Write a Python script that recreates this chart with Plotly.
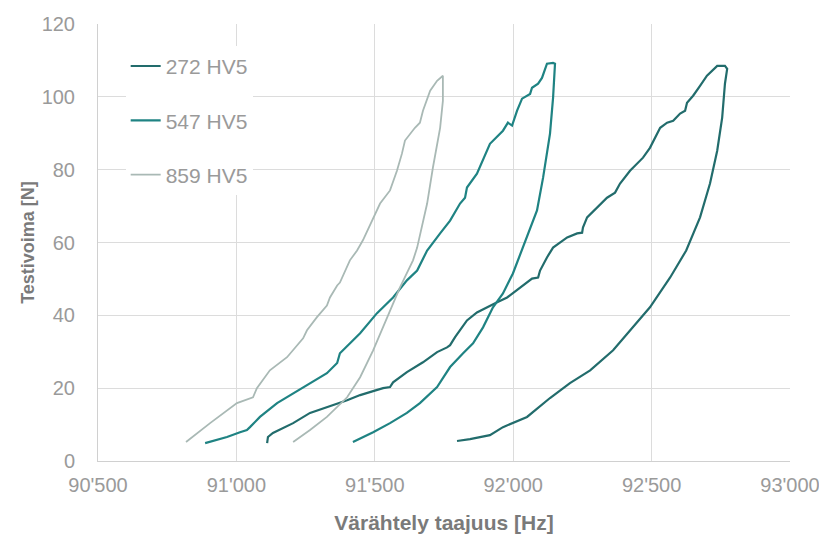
import plotly.graph_objects as go

# ---- data ----
series_names = ["272 HV5", "547 HV5", "859 HV5"]

f_272 = [91111, 91114, 91132, 91205, 91266, 91327, 91374, 91400, 91447, 91472, 91494, 91530,
         91555, 91566, 91616, 91674, 91725, 91761, 91772, 91790, 91833, 91869, 91916, 91942,
         91978, 92025, 92068, 92090, 92097, 92122, 92144, 92195, 92231, 92249, 92252, 92267,
         92303, 92339, 92368, 92386, 92422, 92469, 92494, 92531, 92556, 92578, 92603, 92621,
         92628, 92650, 92675, 92700, 92737, 92765, 92773,
         92765, 92755, 92737, 92711, 92675, 92625, 92567, 92494, 92433, 92361, 92278, 92205,
         92133, 92050, 91963, 91916, 91844, 91797]
F_272 = [4.9, 6.6, 7.7, 10.4, 13.2, 14.8, 15.9, 16.7, 18.1, 18.6, 19.2, 20.0,
         20.3, 21.6, 24.4, 27.1, 29.9, 31.2, 31.8, 34.0, 38.6, 40.8, 42.7, 43.6,
         44.9, 47.7, 50.1, 50.4, 52.3, 55.9, 58.6, 61.4, 62.5, 62.7, 64.1, 66.9,
         69.6, 72.3, 73.7, 76.2, 79.7, 83.3, 86.0, 91.5, 92.9, 93.4, 95.4, 96.2,
         98.4, 100.3, 103.0, 105.8, 108.5, 108.5, 107.7,
         103.6, 94.3, 85.2, 76.2, 66.9, 57.8, 50.4, 42.2, 36.7, 30.4, 24.9, 21.4,
         17.3, 12.1, 9.3, 7.1, 6.0, 5.5]

f_547 = [90887, 90966, 91013, 91038, 91049, 91085, 91147, 91205, 91266, 91327, 91364, 91374,
         91447, 91508, 91566, 91616, 91653, 91689, 91736, 91772, 91808, 91826, 91833, 91869,
         91916, 91963, 91981, 91996, 92014, 92032, 92061, 92068, 92090, 92104, 92122, 92144,
         92151,
         92144, 92133, 92108, 92086, 92038, 91999, 91963, 91927, 91891, 91855, 91819, 91772,
         91725, 91663, 91616, 91555, 91494, 91421]
F_547 = [4.9, 6.6, 7.9, 8.5, 9.3, 12.1, 15.9, 18.6, 21.4, 24.1, 26.9, 29.6,
         35.1, 40.6, 44.9, 49.6, 52.3, 57.8, 62.5, 66.0, 70.7, 72.3, 75.1, 78.9,
         87.1, 90.7, 92.9, 92.1, 96.2, 99.5, 100.8, 102.5, 103.6, 105.2, 109.1, 109.3,
         109.1,
         99.7, 89.9, 77.8, 68.8, 59.0, 51.5, 46.0, 42.2, 36.7, 32.3, 29.6, 25.8,
         20.3, 15.9, 13.2, 10.4, 7.9, 5.2]

f_859 = [90818, 90905, 91002, 91060, 91074, 91121, 91183, 91241, 91255, 91291, 91327, 91338,
         91364, 91374, 91410, 91436, 91457, 91519, 91555, 91580, 91598, 91609, 91645, 91663,
         91674, 91700, 91725, 91746,
         91746, 91736, 91710, 91689, 91653, 91638, 91591, 91544, 91494, 91447, 91400, 91327,
         91266, 91205]
F_859 = [5.2, 10.4, 15.9, 17.5, 20.0, 24.9, 28.5, 33.7, 35.9, 39.5, 42.7, 44.9,
         48.2, 49.0, 55.1, 57.8, 60.6, 70.7, 74.3, 79.7, 84.4, 88.0, 91.5, 92.9,
         96.2, 101.7, 104.4, 105.8,
         98.9, 91.5, 80.6, 70.7, 58.6, 55.1, 47.7, 39.5, 30.4, 23.0, 17.5, 12.1,
         8.5, 5.2]

x_tickvals = [90500, 91000, 91500, 92000, 92500, 93000]
x_ticktext = ["90'500", "91'000", "91'500", "92'000", "92'500", "93'000"]
y_tickvals = [0, 20, 40, 60, 80, 100, 120]

x_title = "Värähtely taajuus [Hz]"
y_title = "Testivoima [N]"

# ---- styling ----
colors = ["#226c6c", "#1f8383", "#a9b9b5"]
widths = [2.2, 2.2, 1.8]
xs = [f_272, f_547, f_859]
ys = [F_272, F_547, F_859]

fig = go.Figure()
for i in range(3):
    fig.add_trace(go.Scatter(
        x=xs[i], y=ys[i], mode="lines", name=series_names[i],
        legendgroup=series_names[i],
        line=dict(color=colors[i], width=widths[i]),
    ))

tick_font = dict(family="Liberation Sans, Arial, sans-serif", size=20, color="#9a9a9a")
fig.update_layout(
    width=827, height=544,
    margin=dict(l=90, r=45, t=16, b=91),
    paper_bgcolor="white", plot_bgcolor="white",
    showlegend=True,
    legend=dict(
        x=0.04, y=0.95, xanchor="left", yanchor="top",
        bgcolor="white", borderwidth=0,
        font=dict(family="Liberation Sans, Arial, sans-serif", size=21, color="#9a9a9a"),
        tracegroupgap=24, itemwidth=30,
    ),
    xaxis=dict(
        range=[90500, 93000], tickvals=x_tickvals, ticktext=x_ticktext,
        showgrid=True, gridcolor="#dcdcdc", gridwidth=1,
        showline=True, linecolor="#d0d0d0", linewidth=1,
        zeroline=False, ticks="", tickfont=tick_font, ticklabelstandoff=6,
        automargin=False,
        title=dict(text=x_title, standoff=20,
                   font=dict(family="Liberation Sans Narrow, Liberation Sans, Arial, sans-serif",
                             size=21, color="#7a7a7a", weight="bold")),
    ),
    yaxis=dict(
        range=[0, 120], tickvals=y_tickvals,
        showgrid=True, gridcolor="#dcdcdc", gridwidth=1,
        showline=True, linecolor="#d0d0d0", linewidth=1,
        zeroline=False, ticks="", tickfont=tick_font, ticklabelstandoff=18,
        automargin=False,
        title=dict(text=y_title, standoff=2,
                   font=dict(family="Liberation Sans, Arial, sans-serif",
                             size=18, color="#7a7a7a", weight="bold")),
    ),
)

fig.write_html("out.html")
